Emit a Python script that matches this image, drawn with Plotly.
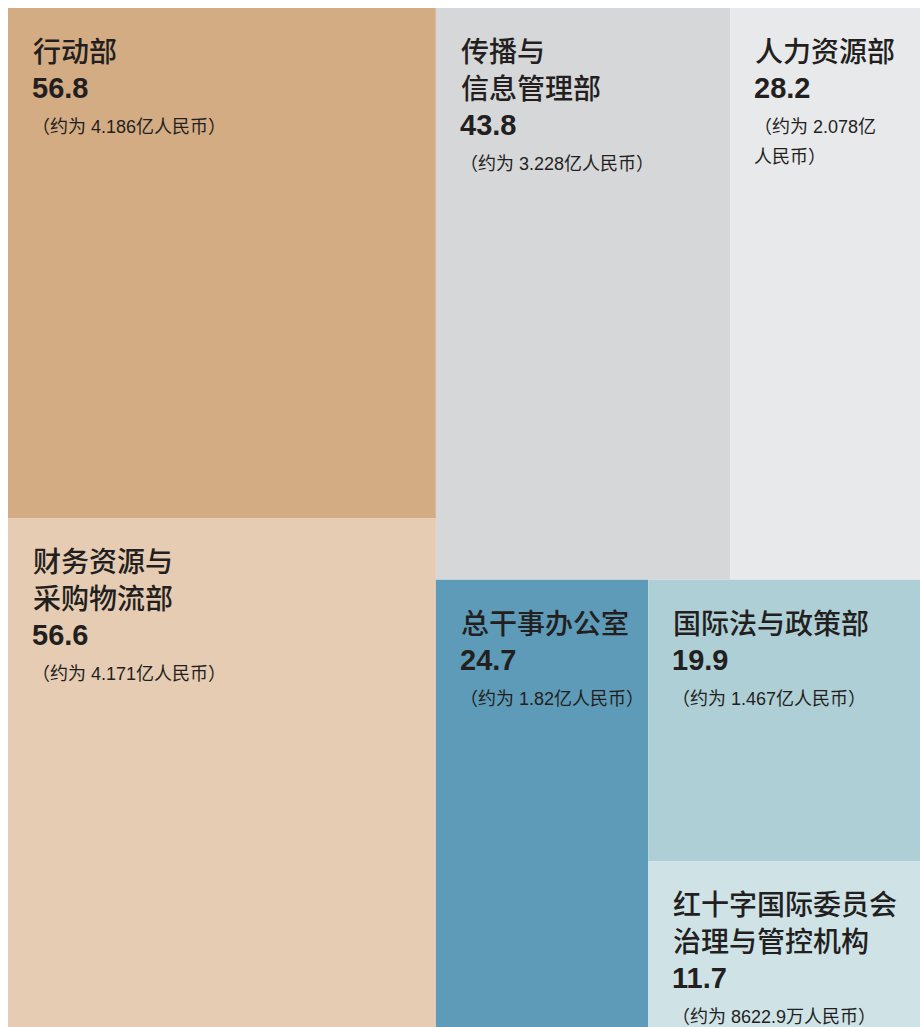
import plotly.graph_objects as go

# ---- data ----
dept_names = [
    "行动部",
    "财务资源与<br>采购物流部",
    "传播与<br>信息管理部",
    "人力资源部",
    "总干事办公室",
    "国际法与政策部",
    "红十字国际委员会<br>治理与管控机构",
]
values = [56.8, 56.6, 43.8, 28.2, 24.7, 19.9, 11.7]
rmb_labels = [
    "（约为 4.186亿人民币）",
    "（约为 4.171亿人民币）",
    "（约为 3.228亿人民币）",
    "（约为 2.078亿<br>人民币）",
    "（约为 1.82亿人民币）",
    "（约为 1.467亿人民币）",
    "（约为 8622.9万人民币）",
]
colors = ["#D4AC84", "#E6CCB3", "#D6D7D9", "#E8E9EB", "#5E9BB8", "#AECFD6", "#CFE3E7"]
# nesting of the treemap (indices into the lists above)
tree = [[0, 1], [[2, 3], [4, [5, 6]]]]

TEXT = "#231F20"
CJK = "Noto Sans CJK SC"
SUB = "Liberation Sans, Noto Sans CJK SC, sans-serif"
NUM = "Liberation Sans Narrow, Liberation Sans, Arial, sans-serif"


def total(node):
    return values[node] if isinstance(node, int) else sum(total(c) for c in node)


rects = {}


def place(node, x0, y0, x1, y1, depth):
    if isinstance(node, int):
        rects[node] = (x0, y0, x1, y1)
        return
    t = total(node)
    pos = 0.0
    for c in node:
        f = total(c) / t
        if depth % 2 == 0:
            a = x0 + (x1 - x0) * pos
            b = x0 + (x1 - x0) * (pos + f)
            place(c, a, y0, b, y1, depth + 1)
        else:
            a = y1 - (y1 - y0) * pos
            b = y1 - (y1 - y0) * (pos + f)
            place(c, x0, b, x1, a, depth + 1)
        pos += f


place(tree, 0.0, 0.0, 1.0, 1.0, 0)

fig = go.Figure()
shapes = []
annotations = []
for i in range(len(values)):
    x0, y0, x1, y1 = rects[i]
    shapes.append(dict(type="rect", xref="x", yref="y", x0=x0, y0=y0, x1=x1, y1=y1,
                       fillcolor=colors[i], line=dict(width=0), layer="below"))
    off = 42
    for line in dept_names[i].split("<br>"):
        annotations.append(dict(x=x0, y=y1, xref="x", yref="y", text=line, showarrow=False,
                                xanchor="left", yanchor="middle", xshift=23, yshift=-off,
                                font=dict(family=CJK, size=28, color=TEXT, weight=500)))
        off += 37
    off += 1
    annotations.append(dict(x=x0, y=y1, xref="x", yref="y", text=f"{values[i]:.1f}", showarrow=False,
                            xanchor="left", yanchor="middle", xshift=22, yshift=-off,
                            font=dict(family=NUM, size=29, color=TEXT, weight="bold")))
    off += 39
    for line in rmb_labels[i].split("<br>"):
        annotations.append(dict(x=x0, y=y1, xref="x", yref="y", text=line, showarrow=False,
                                xanchor="left", yanchor="middle", xshift=22, yshift=-off,
                                font=dict(family=SUB, size=18, color=TEXT)))
        off += 30

# invisible trace so the axes exist
fig.add_trace(go.Scatter(x=[0, 1], y=[0, 1], mode="markers", marker=dict(opacity=0),
                         hoverinfo="skip", showlegend=False))

fig.update_layout(
    width=920, height=1027,
    margin=dict(l=8, r=0, t=8, b=0),
    paper_bgcolor="white", plot_bgcolor="white",
    xaxis=dict(range=[0, 1], visible=False, fixedrange=True),
    yaxis=dict(range=[0, 1], visible=False, fixedrange=True),
    shapes=shapes, annotations=annotations, showlegend=False,
)
fig.write_html(
    "out.html",
    config={"displayModeBar": False},
    post_script="document.body.style.margin='0';document.body.style.overflow='hidden';",
)
